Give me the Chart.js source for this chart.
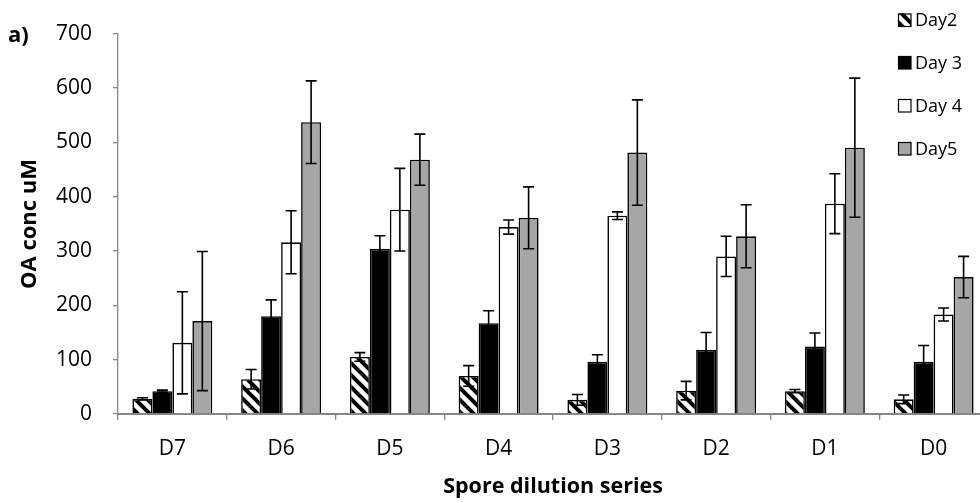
<!DOCTYPE html>
<html>
<head>
<meta charset="utf-8">
<script src="https://cdn.jsdelivr.net/npm/chart.js@4/dist/chart.umd.min.js"></script>
<style>
  html, body { margin: 0; padding: 0; background: #fff; overflow: hidden; }
  #wrap { position: absolute; left: 0; top: 0; width: 988px; height: 502px; }
</style>
</head>
<body>
<div id="wrap"><canvas id="oaChart"></canvas></div>
<script>
// * data
const dilutions = ["D7", "D6", "D5", "D4", "D3", "D2", "D1", "D0"];
const seriesNames = ["Day2", "Day 3", "Day 4", "Day5"];
const day2 = [28, 64, 105, 70, 26, 43, 42, 27];
const day3 = [42, 180, 304, 167, 96, 118, 124, 96];
const day4 = [131, 316, 376, 344, 365, 290, 387, 183];
const day5 = [171, 537, 468, 361, 481, 327, 490, 252];
const err2 = [2, 18, 8, 19, 10, 17, 3, 8];
const err3 = [2, 30, 24, 23, 13, 32, 25, 30];
const err4 = [94, 58, 76, 13, 7, 37, 55, 12];
const err5 = [128, 76, 47, 57, 97, 58, 128, 38];
const yTicks = [0, 100, 200, 300, 400, 500, 600, 700];

const axisGray = "#868686";
const fontName = "'Open Sans', 'Liberation Sans', sans-serif";

// hatch pattern for Day2
function makeHatch() {
  const s = 12;
  const c = document.createElement("canvas");
  c.width = s;
  c.height = s;
  const x = c.getContext("2d");
  x.fillStyle = "#fff";
  x.fillRect(0, 0, s, s);
  x.strokeStyle = "#000";
  x.lineWidth = 4;
  [-s, 0, s].forEach((k) => {
    x.beginPath();
    x.moveTo(-2, k - 2);
    x.lineTo(s + 2, k + s + 2);
    x.stroke();
  });
  return x.createPattern(c, "repeat");
}
const hatch = makeHatch();

const fills = [hatch, "#000000", "#ffffff", "#a6a6a6"];
const values = [day2, day3, day4, day5];
const errors = [err2, err3, err4, err5];

// ? error bars
const errorBars = {
  id: "errorBars",
  afterDatasetsDraw(chart) {
    const ctx = chart.ctx;
    const y = chart.scales.y;
    ctx.save();
    ctx.strokeStyle = "#000";
    ctx.lineWidth = 1.6;
    chart.data.datasets.forEach((ds, i) => {
      const meta = chart.getDatasetMeta(i);
      meta.data.forEach((bar, j) => {
        const v = ds.data[j];
        const e = errors[i][j];
        const top = y.getPixelForValue(v + e);
        const bot = y.getPixelForValue(v - e);
        ctx.beginPath();
        ctx.moveTo(bar.x, top);
        ctx.lineTo(bar.x, bot);
        ctx.moveTo(bar.x - 5.5, top);
        ctx.lineTo(bar.x + 5.5, top);
        ctx.moveTo(bar.x - 5.5, bot);
        ctx.lineTo(bar.x + 5.5, bot);
        ctx.stroke();
      });
    });
    ctx.restore();
  },
};

// ? legend + titles
const extras = {
  id: "extras",
  afterDraw(chart) {
    const ctx = chart.ctx;
    const area = chart.chartArea;
    ctx.save();
    const rows = [20, 62.5, 105.5, 148.5];
    seriesNames.forEach((name, i) => {
      const cy = rows[i];
      ctx.fillStyle = fills[i];
      ctx.fillRect(898, cy - 6.5, 13, 13);
      ctx.strokeStyle = "#000";
      ctx.lineWidth = 1.2;
      ctx.strokeRect(898.5, cy - 6, 12.5, 12.5);
      ctx.fillStyle = "#000";
      ctx.font = "18px " + fontName;
      ctx.textAlign = "left";
      ctx.textBaseline = "middle";
      ctx.fillText(name, 915, cy + 1);
    });

    ctx.fillStyle = "#000";
    ctx.font = "bold 22px " + fontName;
    ctx.textAlign = "left";
    ctx.textBaseline = "middle";
    ctx.fillText("a)", 8, 36);

    ctx.font = "bold 21.5px " + fontName;
    ctx.textAlign = "center";
    ctx.fillText("Spore dilution series", (area.left + area.right) / 2, 487);

    ctx.font = "bold 22px " + fontName;
    ctx.translate(30, 224);
    ctx.rotate(-Math.PI / 2);
    ctx.fillText("OA conc uM", 0, 0);
    ctx.restore();
  },
};

const barCanvas = document.getElementById("oaChart").getContext("2d");
const barChart = new Chart(barCanvas, {
  type: "bar",
  data: {
    labels: dilutions,
    datasets: values.map((v, i) => ({
      label: seriesNames[i],
      data: v,
      backgroundColor: fills[i],
      borderColor: "#000",
      borderWidth: 1.6,
      borderSkipped: "bottom",
      categoryPercentage: 0.735,
      barPercentage: 1.0,
    })),
  },
  options: {
    responsive: true,
    maintainAspectRatio: false,
    animation: false,
    layout: { padding: { top: 32, left: 0, right: 0, bottom: 0 } },
    plugins: {
      legend: { display: false },
      tooltip: { enabled: false },
    },
    scales: {
      x: {
        afterFit: (s) => { s.height = 88; },
        grid: {
          display: true,
          drawOnChartArea: false,
          drawTicks: true,
          tickLength: 6,
          color: axisGray,
          lineWidth: 1.3,
        },
        border: { color: axisGray, width: 2 },
        ticks: {
          color: "#000",
          padding: 16,
          font: { family: fontName, size: 21 },
        },
      },
      y: {
        min: 0,
        max: 700,
        afterFit: (s) => { s.width = 118; },
        afterBuildTicks: (s) => { s.ticks = yTicks.map((v) => ({ value: v })); },
        grid: {
          display: true,
          drawOnChartArea: false,
          drawTicks: true,
          tickLength: 5,
          color: axisGray,
          lineWidth: 1.3,
        },
        border: { color: axisGray, width: 1.3 },
        ticks: {
          color: "#000",
          padding: 21,
          font: { family: fontName, size: 21 },
        },
      },
    },
  },
  plugins: [errorBars, extras],
});
</script>
</body>
</html>
